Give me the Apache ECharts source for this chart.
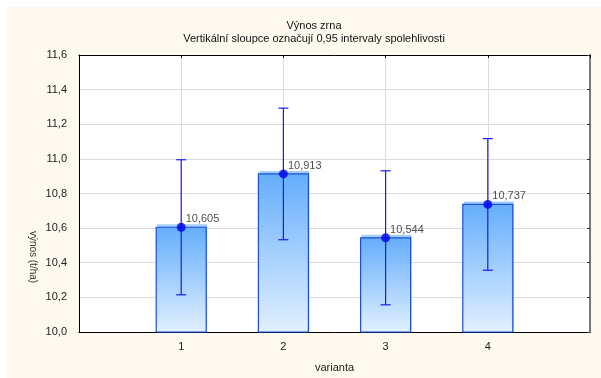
<!DOCTYPE html>
<html>
<head>
<meta charset="utf-8">
<script src="https://cdn.jsdelivr.net/npm/echarts@6/dist/echarts.min.js"></script>
<style>
html,body{margin:0;padding:0;background:#fff;}
#c{width:601px;height:378px;}
</style>
</head>
<body>
<div id="c"></div>
<script>
var categories = ['', '1', '2', '3', '4', ''];
var means = [null, 10.605, 10.913, 10.544, 10.737, null];
var ciLow = [null, 10.215, 10.533, 10.157, 10.357, null];
var ciHigh = [null, 10.995, 11.293, 10.931, 11.117, null];
var yTicks = [10.0, 10.2, 10.4, 10.6, 10.8, 11.0, 11.2, 11.4, 11.6];

var FONT = '"Liberation Sans", Arial, sans-serif';
var chart = echarts.init(document.getElementById('c'));

var barData = [], errData = [], meanData = [];
for (var i = 0; i < categories.length; i++) {
  if (means[i] == null) continue;
  barData.push([i, means[i]]);
  errData.push([i, ciLow[i], ciHigh[i]]);
  meanData.push([i, means[i]]);
}
function fmt(v) { return v.toFixed(1).replace('.', ','); }
var yMin = yTicks[0], yMax = yTicks[yTicks.length - 1];

var grad = new echarts.graphic.LinearGradient(0, 0, 0, 1, [
  { offset: 0, color: '#64aefc' },
  { offset: 1, color: '#e2f0ff' }
]);

chart.setOption({
  animation: false,
  textStyle: { fontFamily: FONT },
  graphic: [
    { type: 'rect', z: -100, shape: { x: 7, y: 7, width: 594, height: 371 }, style: { fill: '#fdf9ee' } },
    { type: 'text', z: 10, x: 33, y: 257, rotation: -Math.PI / 2,
      style: { text: 'výnos (t/ha)', fontFamily: FONT, fontSize: 10, fill: '#333', align: 'center', verticalAlign: 'middle' } }
  ],
  title: {
    text: 'Výnos zrna',
    subtext: 'Vertikální sloupce označují 0,95 intervaly spolehlivosti',
    left: 309, textAlign: 'center', top: 15, itemGap: 2,
    textStyle: { fontFamily: FONT, fontSize: 11, fontWeight: 'normal', color: '#111' },
    subtextStyle: { fontFamily: FONT, fontSize: 11, color: '#111' }
  },
  grid: { left: 79, right: 11, top: 55, bottom: 43, show: true, backgroundColor: '#fff', borderWidth: 0 },
  xAxis: [{
    type: 'category', data: categories, boundaryGap: false,
    name: 'varianta', nameLocation: 'middle', nameGap: 30,
    nameTextStyle: { fontFamily: FONT, fontSize: 11, color: '#222' },
    axisLine: { lineStyle: { color: '#000', width: 1 } },
    axisTick: { show: false },
    axisLabel: { fontFamily: FONT, fontSize: 11, color: '#222', margin: 9, interval: 0 },
    splitLine: { show: true, interval: function (idx) { return idx > 0 && idx < 5; }, lineStyle: { color: '#dcdcdc' } }
  }, {
    type: 'category', data: categories, boundaryGap: false, position: 'top',
    axisLine: { lineStyle: { color: '#000', width: 1 } },
    axisTick: { show: true, inside: true, length: 3, lineStyle: { color: '#000' } },
    axisLabel: { show: false }, splitLine: { show: false }
  }],
  yAxis: [{
    type: 'value', min: yMin, max: yMax, interval: 0.2,
    axisLine: { show: true, lineStyle: { color: '#000', width: 1 } },
    axisTick: { show: false },
    axisLabel: { fontFamily: FONT, fontSize: 11, color: '#222', margin: 12, formatter: fmt },
    splitLine: { show: true, lineStyle: { color: '#dcdcdc' } }
  }, {
    type: 'value', min: yMin, max: yMax, interval: 0.2, position: 'right',
    axisLine: { show: true, lineStyle: { color: '#7a7a7a', width: 2 } },
    axisTick: { show: true, inside: true, length: 3, lineStyle: { color: '#333' } },
    axisLabel: { show: false }, splitLine: { show: false }
  }],
  series: [{
    type: 'custom', z: 2, data: barData,
    renderItem: function (params, api) {
      var x = api.value(0);
      var top = api.coord([x, api.value(1)]);
      var base = api.coord([x, yMin]);
      var w = 50;
      var x0 = top[0] - w / 2;
      return { type: 'group', children: [
        { type: 'rect', shape: { x: x0 + 1, y: top[1] - 3, width: w, height: base[1] - top[1] + 3 },
          style: { fill: '#a3cff9' } },
        { type: 'rect', shape: { x: x0, y: top[1], width: w, height: base[1] - top[1] },
          style: { fill: grad, stroke: '#1c4fd8', lineWidth: 1.2 } }
      ]};
    }
  }, {
    type: 'custom', z: 5, data: errData,
    renderItem: function (params, api) {
      var x = api.value(0);
      var lo = api.coord([x, api.value(1)]);
      var hi = api.coord([x, api.value(2)]);
      var hw = 5;
      var st = { stroke: '#1a1aee', lineWidth: 1.2 };
      return { type: 'group', children: [
        { type: 'line', shape: { x1: lo[0], y1: lo[1], x2: hi[0], y2: hi[1] }, style: st },
        { type: 'line', shape: { x1: lo[0] - hw, y1: lo[1], x2: lo[0] + hw, y2: lo[1] }, style: st },
        { type: 'line', shape: { x1: hi[0] - hw, y1: hi[1], x2: hi[0] + hw, y2: hi[1] }, style: st }
      ]};
    }
  }, {
    type: 'scatter', z: 6, data: meanData,
    symbol: 'circle', symbolSize: 9,
    itemStyle: { color: '#0000ee' },
    label: {
      show: true, position: 'right', distance: 0, offset: [0, -8],
      fontFamily: FONT, fontSize: 11, color: '#222',
      formatter: function (p) { return p.value[1].toFixed(3).replace('.', ','); }
    }
  }]
});
</script>
</body>
</html>
